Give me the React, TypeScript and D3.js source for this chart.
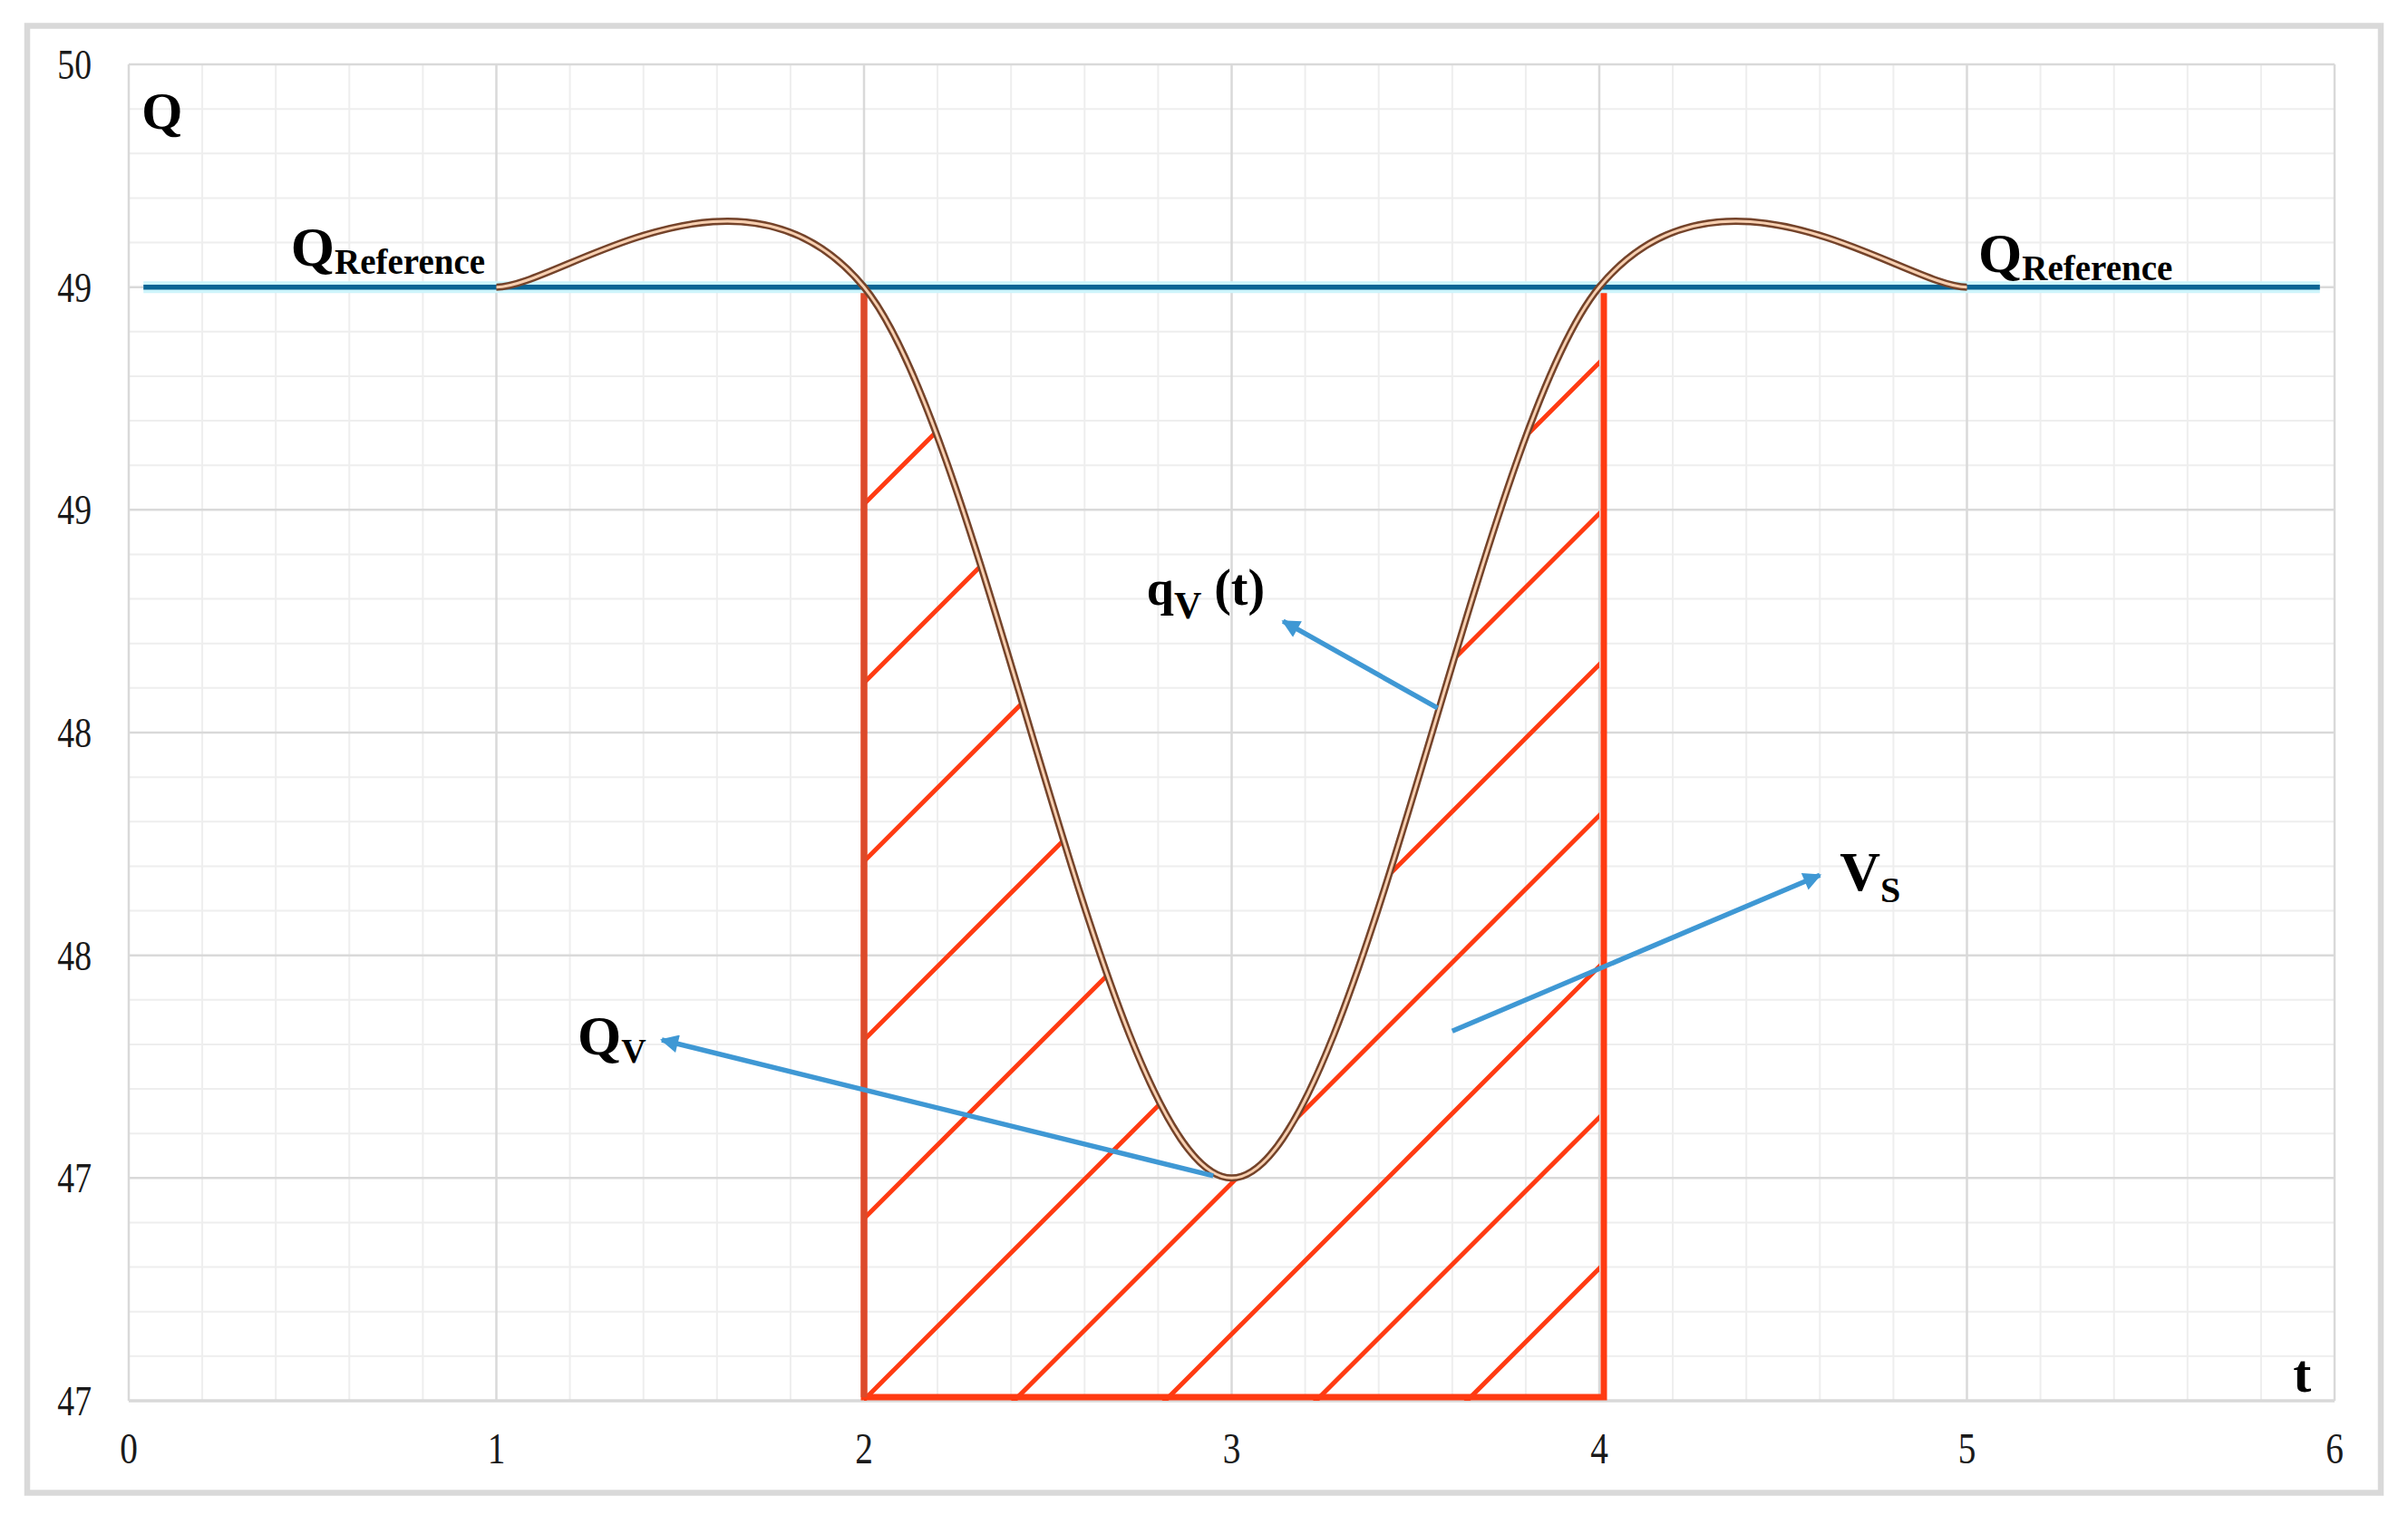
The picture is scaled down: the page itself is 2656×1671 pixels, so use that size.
import React from "react";
import * as d3 from "d3";

const width = 2656;
const height = 1671;
const margin = { top: 71, right: 81, bottom: 126, left: 142 };

// axes
const tTicks = [0, 1, 2, 3, 4, 5, 6];
const qTicks = [47, 47.5, 48, 48.5, 49, 49.5, 50];
const qTickLabels = ["47", "47", "48", "48", "49", "49", "50"];

// q_V(t) flow curve (smoothed through these points)
const flowT = [1, 2, 3, 4, 5];
const flowQ = [49.5, 49.5, 47.5, 49.5, 49.5];

// reference level
const refT = [0.04, 5.96];
const refQ = 49.5;

// hatched interval
const windowT = [2, 4];
const qFloor = 47;

// annotation arrows [t, q]
const arrowFrom = [
  [3.56, 48.555],
  [2.95, 47.505],
  [3.6, 47.83],
];
const arrowTo = [
  [3.14, 48.75],
  [1.45, 47.81],
  [4.6, 48.18],
];

// text labels
const labelMain = ["Q", "Q", "Q", "q", "Q", "V", "t"];
const labelSub = ["", "Reference", "Reference", "V", "V", "S", ""];
const labelTail = ["", "", "", " (t)", "", "", ""];
const labelT = [0.035, 0.441, 5.031, 2.769, 1.221, 4.654, 5.887];
const labelQ = [49.855, 49.548, 49.534, 48.787, 47.777, 48.146, 47.02];

const labelMainSize = [58, 62, 62, 54, 62, 62, 60];
const labelSubSize = [0, 39, 39, 42, 38, 40, 0];
const labelSubShift = [0, 9, 9, 15, 9, 13, 0];

const App = () => {
  const x = d3
    .scaleLinear()
    .domain([0, 6])
    .range([margin.left, width - margin.right]);
  const y = d3
    .scaleLinear()
    .domain([47, 50])
    .range([height - margin.bottom, margin.top]);

  const minorT = d3.range(0, 6.0001, 0.2).filter((v) => Math.abs(v - Math.round(v)) > 1e-6);
  const minorQ = d3
    .range(47, 50.0001, 0.1)
    .filter((v) => Math.abs(v * 2 - Math.round(v * 2)) > 1e-6);

  const flow = flowT.map((t, i) => [t, flowQ[i]] as [number, number]);
  // repeat the end points so the ends leave flat, as a spreadsheet smooth line does
  const flowPadded = [flow[0], ...flow, flow[flow.length - 1]];
  const smooth = d3.curveCardinal.tension(0);

  const line = d3
    .line<[number, number]>()
    .x((d) => x(d[0]))
    .y((d) => y(d[1]))
    .curve(smooth);

  const area = d3
    .area<[number, number]>()
    .x((d) => x(d[0]))
    .y0(y(qFloor))
    .y1((d) => y(d[1]))
    .curve(smooth);

  const x0 = x(windowT[0]);
  const x1 = x(windowT[1]);
  const xMid = x((windowT[0] + windowT[1]) / 2);
  const yTop = y(refQ);
  const yBot = y(qFloor) - 4;

  // hatch lines (45 deg in screen space)
  const gapA = 197;
  const gapB = 166.5;
  const L = 1400;
  const hatchA = d3.range(1, 6).map((k) => {
    const yy = yBot - k * gapA;
    return `M${x0 - 20},${yy + 20}L${x0 + L},${yy - L}`;
  });
  const hatchB = d3.range(-4, 6).map((k) => {
    const xb = x0 + 3 + k * gapB;
    return { k, d: `M${xb - 20},${yBot + 20}L${xb + L},${yBot - L}` };
  });

  const gridMinor = "#eeeeee";
  const gridMajor = "#d9d9d9";
  const red = "#ff3b12";
  const blue = "#3f98d4";
  const serif = "'Liberation Serif', 'Times New Roman', serif";

  return (
    <svg
      width={width}
      height={height}
      style={{ position: "absolute", left: 0, top: 0, background: "#fff" }}
    >
      <defs>
        <clipPath id="under">
          <path d={area(flowPadded) || ""} />
        </clipPath>
        <clipPath id="span">
          <rect x={x(flowT[0])} y={0} width={x(flowT[flowT.length - 1]) - x(flowT[0])} height={height} />
        </clipPath>
        <clipPath id="win">
          <rect x={x0} y={0} width={x1 - x0} height={height} />
        </clipPath>
        <clipPath id="winL">
          <rect x={x0} y={0} width={xMid - x0} height={height} />
        </clipPath>
        <clipPath id="winR">
          <rect x={xMid} y={0} width={x1 - xMid} height={height} />
        </clipPath>
        <marker
          id="head"
          viewBox="0 0 10 10"
          refX="9"
          refY="5"
          markerWidth="26"
          markerHeight="20"
          markerUnits="userSpaceOnUse"
          orient="auto"
        >
          <path d="M0,0L10,5L0,10Z" fill={blue} />
        </marker>
      </defs>

      <rect x={0} y={0} width={width} height={height} fill="#fff" />
      <rect x={30} y={28.5} width={2596} height={1618} fill="none" stroke="#d9d9d9" strokeWidth={6.5} />

      {/* minor grid */}
      {minorT.map((t) => (
        <line key={"mt" + t} x1={x(t)} x2={x(t)} y1={y(50)} y2={y(47)} stroke={gridMinor} strokeWidth={2} />
      ))}
      {minorQ.map((q) => (
        <line key={"mq" + q} x1={x(0)} x2={x(6)} y1={y(q)} y2={y(q)} stroke={gridMinor} strokeWidth={2} />
      ))}
      {/* major grid */}
      {tTicks.map((t) => (
        <line key={"t" + t} x1={x(t)} x2={x(t)} y1={y(50)} y2={y(47)} stroke={gridMajor} strokeWidth={2.5} />
      ))}
      {qTicks.map((q) => (
        <line key={"q" + q} x1={x(0)} x2={x(6)} y1={y(q)} y2={y(q)} stroke={gridMajor} strokeWidth={q === 47 ? 3.5 : 2.5} />
      ))}

      {/* tick labels */}
      {qTicks.map((q, i) => (
        <text
          key={"ql" + q}
          transform={`translate(101, ${y(q)}) scale(0.82, 1)`}
          textAnchor="end"
          dy="0.35em"
          fontFamily={serif}
          fontSize={46}
          fill="#1a1a1a"
        >
          {qTickLabels[i]}
        </text>
      ))}
      {tTicks.map((t) => (
        <text
          key={"tl" + t}
          transform={`translate(${x(t)}, 1597) scale(0.82, 1)`}
          textAnchor="middle"
          dy="0.35em"
          fontFamily={serif}
          fontSize={48}
          fill="#1a1a1a"
        >
          {t}
        </text>
      ))}

      {/* hatching below the curve */}
      <g clipPath="url(#winL)">
        <g clipPath="url(#under)">
          {hatchA.map((d, i) => (
            <path key={"ha" + i} d={d} stroke={red} strokeWidth={5} />
          ))}
        </g>
      </g>
      <g clipPath="url(#win)">
        <g clipPath="url(#under)">
          {hatchB
            .filter((h) => h.k >= 0)
            .map((h) => (
              <path key={"hb" + h.k} d={h.d} stroke={red} strokeWidth={5} />
            ))}
        </g>
      </g>
      <g clipPath="url(#winR)">
        <g clipPath="url(#under)">
          {hatchB
            .filter((h) => h.k < 0)
            .map((h) => (
              <path key={"hc" + h.k} d={h.d} stroke={red} strokeWidth={5} />
            ))}
        </g>
      </g>

      {/* red frame */}
      <path d={`M${x0},${yTop}V${yBot}H${x1 + 5}V${yTop}`} fill="none" stroke={red} strokeWidth={7} />
      <line x1={x0} x2={x0} y1={yTop} y2={yBot} stroke="#dc4a2a" strokeWidth={7} />

      {/* reference line */}
      <line x1={x(refT[0])} x2={x(refT[1])} y1={y(refQ)} y2={y(refQ)} stroke="#cdf4fb" strokeWidth={13} />
      <line x1={x(refT[0])} x2={x(refT[1])} y1={y(refQ)} y2={y(refQ)} stroke="#0a6494" strokeWidth={5.5} />

      {/* flow curve, double line */}
      <g clipPath="url(#span)">
        <path d={line(flowPadded) || ""} fill="none" stroke="#74432a" strokeWidth={8} />
        <path d={line(flowPadded) || ""} fill="none" stroke="#f7cfb0" strokeWidth={3} />
      </g>

      {/* arrows */}
      {arrowFrom.map((f, i) => (
        <line
          key={"ar" + i}
          x1={x(f[0])}
          y1={y(f[1])}
          x2={x(arrowTo[i][0])}
          y2={y(arrowTo[i][1])}
          stroke={blue}
          strokeWidth={5.5}
          markerEnd="url(#head)"
        />
      ))}

      {/* labels */}
      {labelMain.map((m, i) => (
        <text
          key={"lb" + i}
          x={x(labelT[i])}
          y={y(labelQ[i])}
          fontFamily={serif}
          fontWeight="bold"
          fontSize={labelMainSize[i]}
          fill="#000"
        >
          <tspan>{m}</tspan>
          {labelSub[i] && (
            <tspan fontSize={labelSubSize[i]} dy={labelSubShift[i]}>
              {labelSub[i]}
            </tspan>
          )}
          {labelTail[i] && (
            <tspan fontSize={56} dy={-labelSubShift[i]} style={{ whiteSpace: "pre" }}>
              {labelTail[i]}
            </tspan>
          )}
        </text>
      ))}
    </svg>
  );
};

export default App;
